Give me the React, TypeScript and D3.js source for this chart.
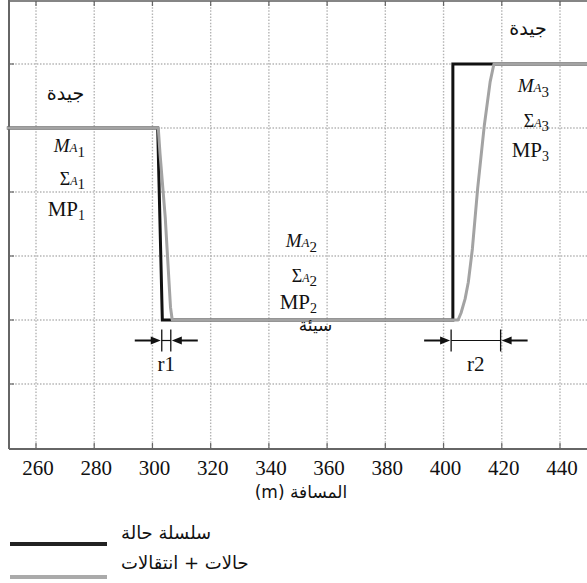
import React from "react";
import * as d3 from "d3";

// Distance ticks (m) and state levels
const xTicks = [260, 280, 300, 320, 340, 360, 380, 400, 420, 440];
const yLevels = [1, 2, 3, 4, 5, 6];

// State sequence (black)
const seqX = [250, 301.8, 303.4, 403.2, 403.2, 452];
const seqY = [5, 5, 2, 2, 6, 6];

// States + transitions (grey)
const transX = [250, 302.0, 302.6, 304.4, 306.2, 306.8, 405.0, 406.0, 407.4, 408.5, 409.9, 411.7, 414.0, 416.0, 417.3, 452];
const transY = [5, 5, 4.6, 3.6, 2.2, 2, 2, 2.11, 2.33, 2.59, 3.11, 4.05, 5.04, 5.72, 6, 6];

// Transition widths r1, r2 (m)
const r1 = [303.2, 306.3];
const r2 = [402.6, 419.6];

const labelGood = "جيدة";
const labelBad = "سيئة";
const axisTitle = "المسافة (m)";
const legendSeq = "سلسلة حالة";
const legendTrans = "حالات + انتقالات";

const serif = "'Liberation Serif', 'Times New Roman', serif";
const arabic = "'DejaVu Sans', 'Noto Sans', sans-serif";

function StateLabels({ x, ys, idx }: { x: number; ys: number[]; idx: number }) {
  return (
    <g fontFamily={serif} fill="#111" textAnchor="end">
      <text x={x} y={ys[0]}>
        <tspan fontStyle="italic" fontSize={19}>M</tspan>
        <tspan fontStyle="italic" fontSize={13}>A</tspan>
        <tspan fontSize={15} dy={5}>{idx}</tspan>
      </text>
      <text x={x} y={ys[1]}>
        <tspan fontSize={18}>Σ</tspan>
        <tspan fontStyle="italic" fontSize={12}>A</tspan>
        <tspan fontSize={15} dy={4}>{idx}</tspan>
      </text>
      <text x={x} y={ys[2]}>
        <tspan fontSize={21}>MP</tspan>
        <tspan fontSize={14} dy={4}>{idx}</tspan>
      </text>
    </g>
  );
}

function Span({ a, b, x, yMid }: { a: number; b: number; x: d3.ScaleLinear<number, number>; yMid: number }) {
  const xa = x(a);
  const xb = x(b);
  return (
    <g stroke="#111" fill="#111">
      <line x1={xa} x2={xa} y1={yMid - 11} y2={yMid + 11} strokeWidth={1.3} />
      <line x1={xb} x2={xb} y1={yMid - 11} y2={yMid + 11} strokeWidth={1.3} />
      <line x1={xa} x2={xb} y1={yMid} y2={yMid} strokeWidth={1.2} />
      <line x1={xa - 27} x2={xa - 9} y1={yMid} y2={yMid} strokeWidth={2} />
      <path d={`M${xa - 1},${yMid} L${xa - 11},${yMid - 4} L${xa - 11},${yMid + 4} Z`} stroke="none" />
      <line x1={xb + 9} x2={xb + 27} y1={yMid} y2={yMid} strokeWidth={2} />
      <path d={`M${xb + 1},${yMid} L${xb + 11},${yMid - 4} L${xb + 11},${yMid + 4} Z`} stroke="none" />
    </g>
  );
}

export default function App() {
  const W = 587;
  const H = 583;
  const left = 9;
  const bottom = 448;
  const x = d3.scaleLinear().domain([260, 440]).range([36, 560]);
  const y = d3.scaleLinear().domain([0, 7]).range([bottom, 0]);

  const line = d3
    .line<[number, number]>()
    .x((d) => x(d[0]))
    .y((d) => y(d[1]));
  const seqPts = seqX.map((v, i) => [v, seqY[i]] as [number, number]);
  const transPts = transX.map((v, i) => [v, transY[i]] as [number, number]);

  return (
    <svg
      width={W}
      height={H}
      style={{ position: "absolute", left: 0, top: 0, background: "#fff" }}
    >
      {/* grid */}
      <g stroke="#b4b4b4" strokeWidth={1.4} strokeDasharray="1.5 1.6">
        {xTicks.map((t) => (
          <line key={"gx" + t} x1={x(t)} x2={x(t)} y1={1} y2={bottom} />
        ))}
        {yLevels.map((l) => (
          <line key={"gy" + l} x1={left} x2={W} y1={y(l)} y2={y(l)} />
        ))}
      </g>

      {/* frame and ticks */}
      <g stroke="#666" fill="none">
        <line x1={left} x2={left} y1={0} y2={bottom + 1} strokeWidth={2} />
        <line x1={left} x2={W} y1={1} y2={1} strokeWidth={2} strokeOpacity={0.8} />
        <line x1={left} x2={W} y1={bottom + 1} y2={bottom + 1} strokeWidth={2} />
        {xTicks.map((t) => (
          <g key={"t" + t}>
            <line x1={x(t)} x2={x(t)} y1={bottom} y2={bottom - 5} strokeWidth={1.2} />
            <line x1={x(t)} x2={x(t)} y1={1} y2={6} strokeWidth={1.2} />
          </g>
        ))}
        {yLevels.map((l) => (
          <line key={"ty" + l} x1={left} x2={left + 5} y1={y(l)} y2={y(l)} strokeWidth={1.2} />
        ))}
      </g>

      {/* series */}
      <path d={line(seqPts) || ""} fill="none" stroke="#111" strokeWidth={3} strokeLinejoin="miter" />
      <path d={line(transPts) || ""} fill="none" stroke="#a3a3a3" strokeWidth={3} strokeLinejoin="round" />

      {/* state annotations */}
      <g fontFamily={arabic} fontSize={19} fill="#111" textAnchor="middle">
        <text x={65.5} y={100}>{labelGood}</text>
        <text x={528} y={35}>{labelGood}</text>
      </g>
      <text x={315.5} y={331} fontFamily={arabic} fontSize={17} fill="#111" textAnchor="middle">
        {labelBad}
      </text>
      <StateLabels x={85} ys={[152, 185, 216]} idx={1} />
      <StateLabels x={317} ys={[247, 282, 309]} idx={2} />
      <StateLabels x={549} ys={[92, 127, 157]} idx={3} />

      {/* transition widths */}
      <Span a={r1[0]} b={r1[1]} x={x} yMid={340.5} />
      <Span a={r2[0]} b={r2[1]} x={x} yMid={340.5} />
      <g fontFamily={serif} fontSize={21} fill="#111" textAnchor="middle">
        <text x={(x(r1[0]) + x(r1[1])) / 2} y={371}>r1</text>
        <text x={(x(r2[0]) + x(r2[1])) / 2} y={371}>r2</text>
      </g>

      {/* x axis labels */}
      <g fontFamily={serif} fontSize={21} fill="#111" textAnchor="middle">
        {xTicks.map((t) => (
          <text key={"l" + t} x={x(t) + 2} y={475}>{t}</text>
        ))}
      </g>
      <text
        x={301}
        y={498}
        fontFamily={arabic}
        fontSize={17}
        fill="#111"
        textAnchor="middle"
        direction="rtl"
        style={{ direction: "rtl", unicodeBidi: "embed" }}
      >
        {axisTitle}
      </text>

      {/* legend */}
      <line x1={10} x2={107} y1={544} y2={544} stroke="#222" strokeWidth={4} />
      <line x1={10} x2={107} y1={577} y2={577} stroke="#aaa" strokeWidth={4} />
      <g fontFamily={arabic} fontSize={18} fill="#111">
        <text x={121} y={539}>{legendSeq}</text>
        <text x={121} y={569}>{legendTrans}</text>
      </g>
    </svg>
  );
}
